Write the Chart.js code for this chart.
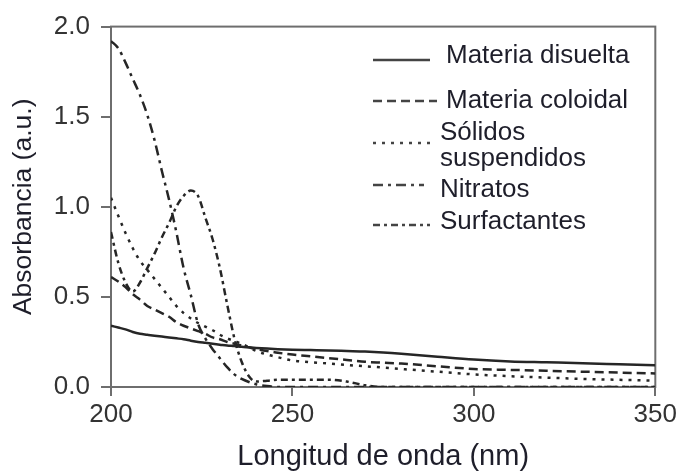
<!DOCTYPE html>
<html>
<head>
<meta charset="utf-8">
<script src="https://cdn.jsdelivr.net/npm/chart.js@4/dist/chart.umd.min.js"></script>
<style>
  html, body { margin: 0; padding: 0; background: #fff; }
  canvas { display: block; }
</style>
</head>
<body>
<canvas id="absChart" width="680" height="474"></canvas>
<script>
// Absorbance spectra of wastewater components (200-350 nm)

const wavelengths = [200, 202, 204, 206, 208, 210, 212, 214, 216, 218, 220, 222, 224, 226, 228, 230, 232, 234, 236, 238, 240, 243, 246, 250, 255, 260, 265, 270, 275, 280, 290, 300, 310, 320, 330, 340, 350];

const disuelta = [0.34, 0.33, 0.32, 0.305, 0.295, 0.29, 0.285, 0.28, 0.275, 0.27, 0.265, 0.257, 0.25, 0.245, 0.24, 0.235, 0.23, 0.227, 0.223, 0.22, 0.217, 0.213, 0.21, 0.207, 0.205, 0.203, 0.2, 0.197, 0.192, 0.185, 0.168, 0.152, 0.142, 0.137, 0.132, 0.126, 0.12];

const coloidal = [0.61, 0.585, 0.555, 0.515, 0.485, 0.45, 0.43, 0.41, 0.39, 0.36, 0.34, 0.325, 0.31, 0.295, 0.275, 0.265, 0.25, 0.24, 0.23, 0.22, 0.21, 0.2, 0.19, 0.18, 0.17, 0.16, 0.15, 0.14, 0.135, 0.13, 0.115, 0.1, 0.095, 0.09, 0.085, 0.08, 0.075];

const solidos = [1.05, 0.95, 0.855, 0.77, 0.7, 0.65, 0.6, 0.55, 0.5, 0.45, 0.41, 0.38, 0.355, 0.335, 0.315, 0.29, 0.27, 0.255, 0.24, 0.22, 0.2, 0.18, 0.165, 0.147, 0.138, 0.13, 0.122, 0.115, 0.108, 0.1, 0.085, 0.07, 0.06, 0.052, 0.045, 0.04, 0.035];

const nitratos = [1.92, 1.88, 1.8, 1.71, 1.62, 1.51, 1.37, 1.2, 1.04, 0.86, 0.66, 0.51, 0.35, 0.27, 0.21, 0.16, 0.11, 0.07, 0.045, 0.028, 0.015, 0.005, 0, 0, 0, 0, 0, 0, 0, 0, 0, 0, 0, 0, 0, 0, 0];

const surfactantes = [0.86, 0.69, 0.58, 0.53, 0.58, 0.66, 0.74, 0.83, 0.91, 1.0, 1.06, 1.09, 1.06, 0.94, 0.82, 0.66, 0.46, 0.27, 0.14, 0.06, 0.03, 0.035, 0.04, 0.04, 0.04, 0.04, 0.03, 0.01, 0, 0, 0, 0, 0, 0, 0, 0, 0];

const seriesNames = ['Materia disuelta', 'Materia coloidal', 'Sólidos suspendidos', 'Nitratos', 'Surfactantes'];
const legendLines = [['Materia disuelta'], ['Materia coloidal'], ['Sólidos', 'suspendidos'], ['Nitratos'], ['Surfactantes']];
const seriesValues = [disuelta, coloidal, solidos, nitratos, surfactantes];
const seriesDash = [[], [9, 5], [3, 6], [10, 5, 3, 5], [7, 4, 3, 4]];

const FONT = '"Liberation Sans", Arial, sans-serif';
const LINE_COLOR = '#262626';
const AXIS_COLOR = '#6e6e6e';

const datasets = seriesValues.map((vals, i) => ({
  label: seriesNames[i],
  data: wavelengths.map((w, j) => ({ x: w, y: vals[j] })),
  borderColor: LINE_COLOR,
  borderWidth: 2.5,
  borderDash: seriesDash[i],
  pointRadius: 0,
  cubicInterpolationMode: 'monotone',
  fill: false,
}));

// box around the plot area
const framePlugin = {
  id: 'frame',
  beforeDatasetsDraw(chart) {
    const { ctx, chartArea: a } = chart;
    ctx.save();
    ctx.strokeStyle = AXIS_COLOR;
    ctx.lineWidth = 2;
    ctx.strokeRect(a.left, a.top, a.right - a.left, a.bottom - a.top);
    ctx.restore();
  },
};

// legend drawn inside the plot, top right
const legendPlugin = {
  id: 'insideLegend',
  afterDraw(chart) {
    const { ctx } = chart;
    const rows = [
      { y: 60, x1: 373, x2: 430, tx: 446, base: [63] },
      { y: 101, x1: 373, x2: 437, tx: 446, base: [108] },
      { y: 143, x1: 373, x2: 430, tx: 440, base: [140, 166] },
      { y: 185, x1: 373, x2: 424, tx: 440, base: [197] },
      { y: 225, x1: 373, x2: 430, tx: 440, base: [229] },
    ];
    ctx.save();
    rows.forEach((r, i) => {
      ctx.strokeStyle = '#444';
      ctx.lineWidth = 2.5;
      ctx.setLineDash(seriesDash[i]);
      ctx.beginPath();
      ctx.moveTo(r.x1, r.y);
      ctx.lineTo(r.x2, r.y);
      ctx.stroke();
      ctx.setLineDash([]);
      ctx.fillStyle = '#1e1e2a';
      ctx.font = `26px ${FONT}`;
      ctx.textAlign = 'left';
      ctx.textBaseline = 'alphabetic';
      legendLines[i].forEach((t, k) => ctx.fillText(t, r.tx, r.base[k]));
    });
    ctx.restore();
  },
};

const ctx = document.getElementById('absChart').getContext('2d');

// eslint-disable-next-line no-unused-vars
const chart = new Chart(ctx, {
  type: 'line',
  data: { datasets },
  options: {
    responsive: false,
    animation: false,
    layout: { padding: { top: 23, right: 24, left: 0, bottom: 0 } },
    plugins: {
      legend: { display: false },
      tooltip: { enabled: false },
    },
    scales: {
      x: {
        type: 'linear',
        min: 200,
        max: 350,
        ticks: {
          stepSize: 50,
          color: '#333',
          font: { family: FONT, size: 26 },
          padding: 3,
          maxRotation: 0,
        },
        grid: { drawOnChartArea: false, drawTicks: true, tickLength: 9, color: AXIS_COLOR, lineWidth: 2 },
        border: { color: AXIS_COLOR, width: 2 },
        title: {
          display: true,
          text: 'Longitud de onda (nm)',
          color: '#1e1e2a',
          font: { family: FONT, size: 29 },
          padding: { top: 0, bottom: 0 },
        },
        afterFit(scale) { scale.height = 87; },
      },
      y: {
        min: 0,
        max: 2,
        ticks: {
          stepSize: 0.5,
          color: '#333',
          font: { family: FONT, size: 26 },
          padding: 11,
          callback: (v) => v.toFixed(1),
        },
        grid: { drawOnChartArea: false, drawTicks: true, tickLength: 10, color: AXIS_COLOR, lineWidth: 2 },
        border: { color: AXIS_COLOR, width: 2 },
        title: {
          display: true,
          text: 'Absorbancia (a.u.)',
          color: '#1e1e2a',
          font: { family: FONT, size: 26.5 },
          padding: { top: 8, bottom: 0 },
        },
        afterFit(scale) { scale.width = 111; },
      },
    },
  },
  plugins: [framePlugin, legendPlugin],
});
</script>
</body>
</html>
